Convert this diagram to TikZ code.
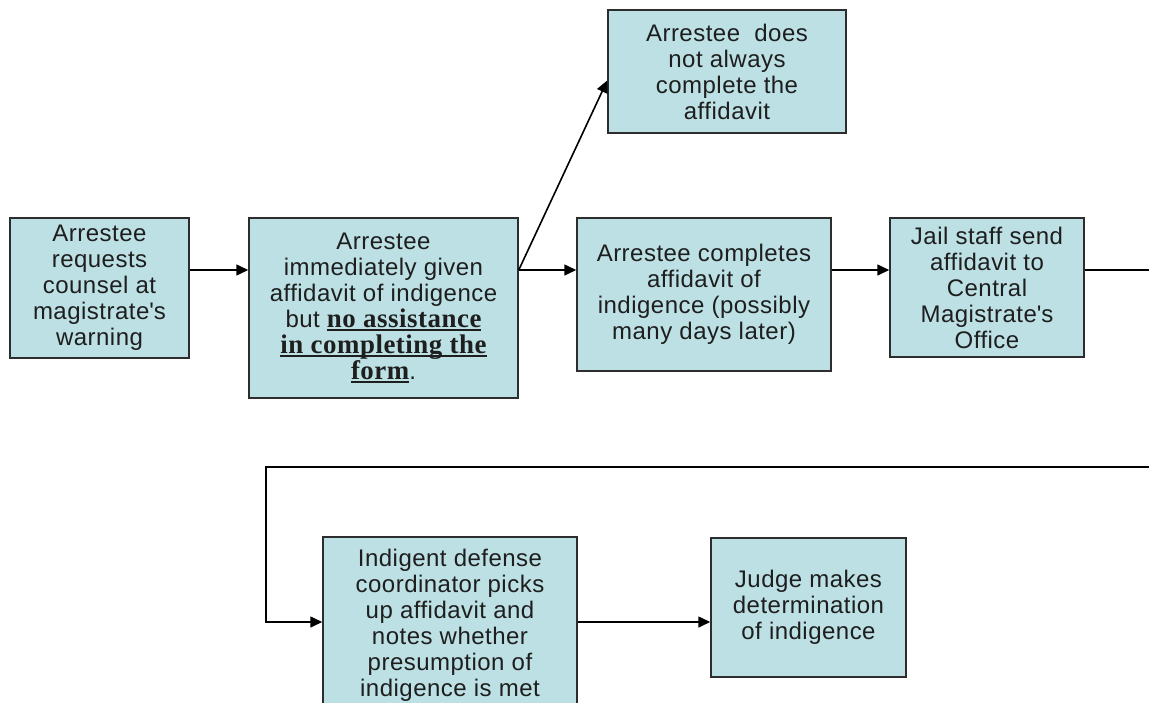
\documentclass[tikz,border=0pt]{standalone}
\usepackage{fontspec}
\setmainfont{Liberation Sans}[LetterSpace=2]
\newfontfamily\emphserif{Liberation Serif}[Scale=1.12,LetterSpace=2]
\usetikzlibrary{arrows.meta,calc}
\definecolor{boxfill}{RGB}{188,224,228}
\definecolor{boxline}{RGB}{45,45,45}
\definecolor{txt}{RGB}{30,30,30}
% underlined bold serif phrase, rule set just under the baseline
\newcommand\undl[1]{\setbox0\hbox{\emphserif\bfseries #1}\rlap{\rule[-3.5pt]{\wd0}{1.6pt}}\box0}
\newcommand\apos{\textquotesingle}
\tikzset{
  stepbox/.style={draw=boxline, line width=1.5pt, fill=boxfill, text=txt,
    align=center, inner sep=0pt,
    font=\fontsize{24}{26}\selectfont},
  arr/.style={line width=1.6pt, draw=black, -{Triangle[length=12pt,width=11pt]}},
  link/.style={line width=1.6pt, draw=black}
}
\begin{document}
\begin{tikzpicture}[x=1pt,y=-1pt]
\clip (0,0) rectangle (1149,702);
\fill[white] (0,0) rectangle (1149,702);

\node[stepbox, minimum width=179pt, minimum height=140pt] (A) at (99.5,288)
  {Arrestee\\requests\\counsel at\\magistrate\apos s\\warning};
\node[stepbox, minimum width=269pt, minimum height=180pt] (B) at (383.5,308)
  {Arrestee\\immediately given\\affidavit of indigence\\but \undl{no assistance}\\\undl{in completing the}\\\undl{form}.};
\node[stepbox, minimum width=238pt, minimum height=123pt] (C) at (727,71.5)
  {Arrestee\ \ does\\not always\\complete the\\affidavit};
\node[stepbox, minimum width=254pt, minimum height=153pt] (D) at (704,294.5)
  {Arrestee completes\\affidavit of\\indigence (possibly\\many days later)};
\node[stepbox, minimum width=194pt, minimum height=139pt] (E) at (987,287.5)
  {Jail staff send\\affidavit to\\Central\\Magistrate\apos s\\Office};
\node[stepbox, minimum width=254pt, minimum height=176pt] (F) at (450,625)
  {Indigent defense\\coordinator picks\\up affidavit and\\notes whether\\presumption of\\indigence is met};
\node[stepbox, minimum width=195pt, minimum height=139pt] (G) at (808.5,607.5)
  {Judge makes\\determination\\of indigence};

% connector rows and the return loop
\coordinate (row1) at (0,270);
\coordinate (row2) at (0,622);
\coordinate (outR) at (1149,270);
\coordinate (loopR) at (1149,467);
\coordinate (loopL) at (266,467);

\draw[arr] (A.east |- row1) -- (B.west |- row1);
\draw[arr] (B.east |- row1) -- (D.west |- row1);
\draw[arr] (B.east |- row1) -- ($(C.west)+(0,9)$);
\draw[arr] (D.east |- row1) -- (E.west |- row1);
\draw[link] (E.east |- row1) -- (outR);
\draw[arr] (loopR) -- (loopL) |- (F.west |- row2);
\draw[arr] (F.east |- row2) -- (G.west |- row2);
\end{tikzpicture}
\end{document}
